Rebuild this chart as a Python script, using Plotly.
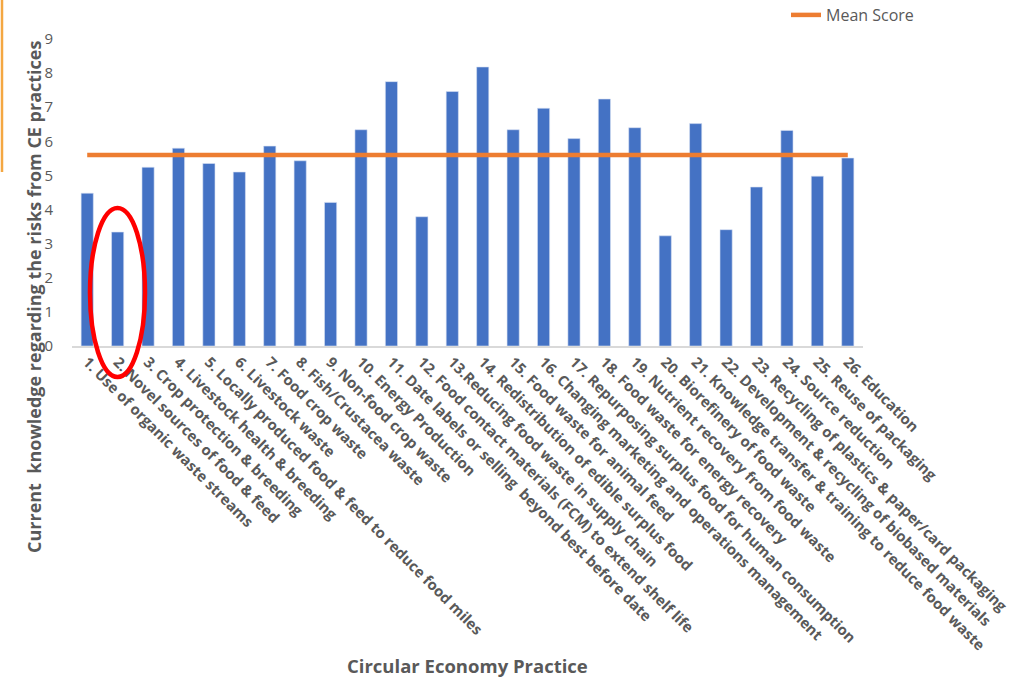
import plotly.graph_objects as go

categories = [
    "1. Use of organic waste streams",
    "2. Novel sources of food & feed",
    "3. Crop protection & breeding",
    "4. Livestock health & breeding",
    "5. Locally produced food & feed to reduce food miles",
    "6. Livestock waste",
    "7. Food crop waste",
    "8. Fish/Crustacea waste",
    "9. Non-food crop waste",
    "10. Energy Production",
    "11. Date labels or selling  beyond best before date",
    "12. Food contact materials (FCM) to extend shelf life",
    "13.Reducing food waste in supply chain",
    "14. Redistribution of edible surplus food",
    "15. Food waste for animal feed",
    "16. Changing marketing and operations management",
    "17. Repurposing surplus food for human consumption",
    "18. Food waste for energy recovery",
    "19. Nutrient recovery from food waste",
    "20. Biorefinery of food waste",
    "21. Knowledge transfer & training to reduce food waste",
    "22. Development & recycling of biobased materials",
    "23. Recycling of plastics & paper/card packaging",
    "24. Source reduction",
    "25. Reuse of packaging",
    "26. Education",
]
scores = [4.48, 3.34, 5.24, 5.80, 5.35, 5.10, 5.86, 5.43, 4.21, 6.34,
          7.75, 3.79, 7.46, 8.18, 6.34, 6.97, 6.08, 7.24, 6.40, 3.23,
          6.52, 3.41, 4.66, 6.32, 4.98, 5.51]
mean_score = 5.6
y_ticks = [0, 1, 2, 3, 4, 5, 6, 7, 8, 9]

FONT = "Open Sans"
GREY = "#595959"

fig = go.Figure()
fig.add_trace(go.Bar(
    x=categories, y=scores, name="Score", showlegend=False,
    marker=dict(color="#4472C4", line=dict(color="#D6E0F3", width=0.6)),
))
fig.add_trace(go.Scatter(
    x=categories, y=[mean_score] * len(categories), name="Mean Score",
    mode="lines", line=dict(color="#ED7D31", width=4.5),
))

# layout geometry
L, T, PW, PH = 72, 39, 791, 307
W, H = 1017, 680

def px_x(px):
    return (px - L) / PW

def px_y(py):
    return (T + PH - py) / PH

fig.update_layout(
    width=W, height=H,
    margin=dict(l=L, r=W - L - PW, t=T, b=H - T - PH, pad=0, autoexpand=False),
    paper_bgcolor="white", plot_bgcolor="white",
    bargap=0.6,
    font=dict(family=FONT, color=GREY),
    showlegend=True,
    legend=dict(x=px_x(786), y=px_y(15), xanchor="left", yanchor="middle",
                font=dict(size=16, color=GREY, family=FONT),
                bgcolor="rgba(0,0,0,0)", itemwidth=30),
    xaxis=dict(
        type="category", range=[-0.5, len(categories) - 0.5],
        tickmode="array", tickvals=categories,
        ticktext=["<b>" + c + "</b>" for c in categories],
        tickangle=45, tickfont=dict(size=14.8, family=FONT, color=GREY),
        showline=True, linecolor="#D9D9D9", linewidth=1.5,
        showgrid=False, ticks="", ticklabelstandoff=0, automargin=False,
    ),
    yaxis=dict(
        range=[0, 9], tickvals=y_ticks, showgrid=False, zeroline=False,
        showline=False, ticks="", ticklabelstandoff=18, automargin=False,
        tickfont=dict(size=15, family=FONT, color=GREY),
    ),
    annotations=[
        dict(text="<b>Current  knowledge regarding the risks from CE practices</b>",
             xref="paper", yref="paper", x=px_x(34), y=px_y(297),
             xanchor="center", yanchor="middle", textangle=-90, showarrow=False,
             font=dict(size=18, family=FONT, color=GREY)),
        dict(text="<b>Circular Economy Practice</b>",
             xref="paper", yref="paper", x=px_x(467), y=px_y(665),
             xanchor="center", yanchor="middle", showarrow=False,
             font=dict(size=18.5, family=FONT, color=GREY)),
    ],
    shapes=[
        dict(type="line", xref="paper", yref="paper",
             x0=px_x(2), x1=px_x(2), y0=px_y(0), y1=px_y(172),
             line=dict(color="#F4A742", width=2.5)),
        dict(type="circle", xref="paper", yref="paper",
             x0=px_x(90), x1=px_x(145), y0=px_y(377), y1=px_y(208),
             line=dict(color="#FF0000", width=4.5)),
    ],
)

fig.write_html("out.html")
